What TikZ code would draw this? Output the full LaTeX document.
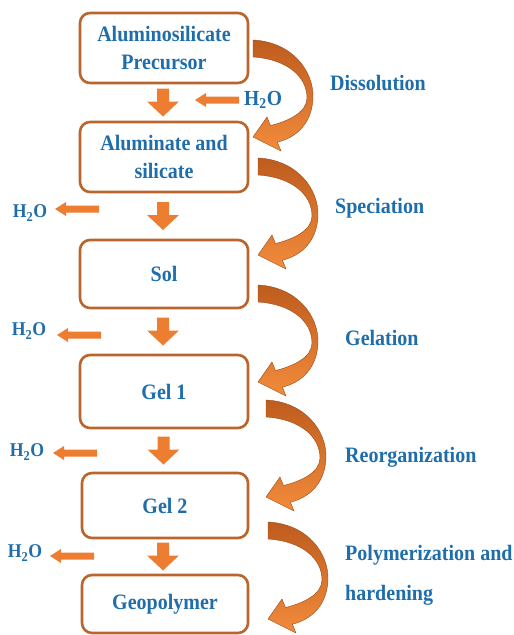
\documentclass[tikz,border=0pt]{standalone}
\usepackage{fontspec}
\setmainfont{Liberation Serif}[FakeStretch=0.91]
\usetikzlibrary{calc}
\definecolor{boxline}{HTML}{B9652C}
\definecolor{arrowfill}{HTML}{ED7D31}
\definecolor{txtblue}{HTML}{1F6EAB}
\definecolor{cdark}{HTML}{BE5C1E}
\definecolor{clight}{HTML}{F28B3B}
\begin{document}
\begin{tikzpicture}[x=1pt,y=-1pt,
  stagebox/.style={draw=boxline, line width=2.6pt, rounded corners=10pt, fill=white,
    minimum width=168pt, inner sep=2pt, align=center, text=txtblue,
    font=\fontsize{22}{28}\selectfont\bfseries},
  steplabel/.style={anchor=west, text=txtblue, inner sep=0pt, align=left,
    font=\fontsize{22}{40}\selectfont\bfseries},
  waterlabel/.style={text=txtblue, inner sep=0pt, font=\fontsize{19.5}{20}\selectfont\bfseries},
  darrow/.pic={\fill[arrowfill] (-6,-14) -- (6,-14) -- (6,-1) -- (16,-1) -- (0,14) -- (-16,-1) -- (-6,-1) -- cycle;},
  larrow/.pic={\fill[arrowfill] (0,0) -- (11,-7) -- (11,-3.5) -- (44,-3.5) -- (44,3.5) -- (11,3.5) -- (11,7) -- cycle;},
  carrow/.pic={\shade[top color=cdark, bottom color=clight, draw=cdark!80!black, line width=0.4pt]
    (0,0) .. controls (40,2) and (61,32) .. (60,58)
    .. controls (59,82) and (45,97) .. (24.4,102.2) -- (28,111) -- (0,97) -- (14,77) -- (17.5,85.5)
    .. controls (36,81) and (54,72) .. (54,58)
    .. controls (54,36) and (33,19) .. (0,17) -- cycle;}
]
\useasboundingbox (0,0) rectangle (514,635);
% stages
\node[stagebox, minimum height=70pt] (b1) at (164,48) {Aluminosilicate\\Precursor};
\node[stagebox, minimum height=70pt] (b2) at (164,157) {Aluminate and\\silicate};
\node[stagebox, minimum height=68pt] (b3) at (164,274) {Sol};
\node[stagebox, minimum height=73pt] (b4) at (164,391.5) {Gel 1};
\node[stagebox, minimum height=65pt, minimum width=166pt] (b5) at (165,505.5) {Gel 2};
\node[stagebox, minimum height=58pt, minimum width=166pt] (b6) at (165,604) {Geopolymer};
% down arrows
\pic at ($(b1.south)!0.5!(b2.north)+(-1,0)$) {darrow};
\pic at ($(b2.south)!0.5!(b3.north)+(-1,0)$) {darrow};
\pic at ($(b3.south)!0.5!(b4.north)+(-1,0)$) {darrow};
\pic at ($(b4.south)!0.5!(b5.north)+(-1,0)$) {darrow};
\pic at ($(b5.south)!0.5!(b6.north)+(-2,0)$) {darrow};
% water
\node[waterlabel, anchor=west, font=\fontsize{21.5}{22}\selectfont\bfseries] (w1) at (244,100) {H\textsubscript{2}O};
\pic at (195,100) {larrow};
\node[waterlabel] (w2) at (30,213) {H\textsubscript{2}O};
\pic at (55,209) {larrow};
\node[waterlabel] (w3) at (29,331) {H\textsubscript{2}O};
\pic at (57,335) {larrow};
\node[waterlabel] (w4) at (27,452) {H\textsubscript{2}O};
\pic at (53,453) {larrow};
\node[waterlabel] (w5) at (25,553) {H\textsubscript{2}O};
\pic at (50,556) {larrow};
% curved step arrows
\pic at (253,40) {carrow};
\pic at (258,158) {carrow};
\pic at (258,285) {carrow};
\pic at (266,400) {carrow};
\pic at (268,522) {carrow};
% step labels
\node[steplabel] (s1) at (330,83) {Dissolution};
\node[steplabel] (s2) at (335,208) {Speciation};
\node[steplabel] (s3) at (345,338) {Gelation};
\node[steplabel] (s4) at (345,457) {Reorganization};
\node[steplabel] (s5) at (345,575) {Polymerization and\\hardening};
\end{tikzpicture}
\end{document}
